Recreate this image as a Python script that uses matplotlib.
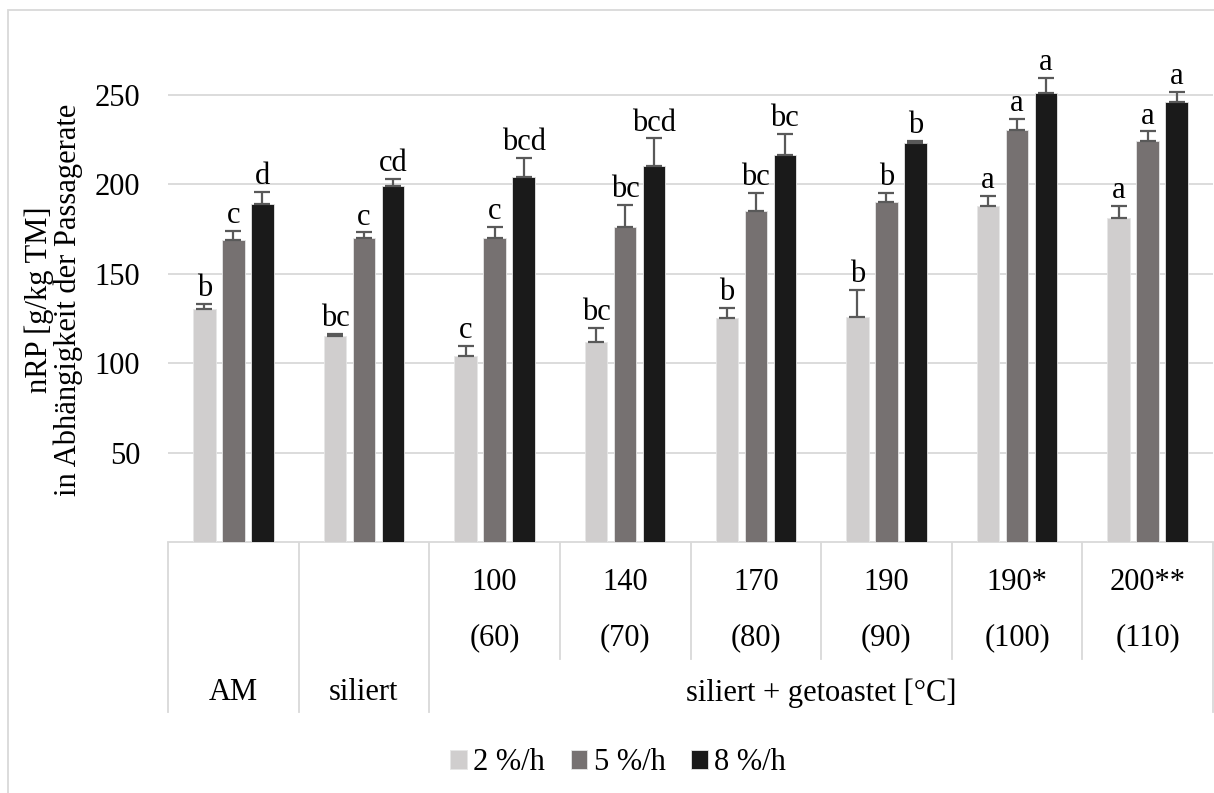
import numpy as np
import matplotlib
matplotlib.use("Agg")
from matplotlib import pyplot as plt
from matplotlib.lines import Line2D
from matplotlib.patches import Rectangle
from matplotlib.transforms import blended_transform_factory

plt.rcParams['font.family'] = ['Liberation Serif', 'DejaVu Serif']

# data
groups_top = ["", "", "100", "140", "170", "190", "190*", "200**"]
groups_mid = ["", "", "(60)", "(70)", "(80)", "(90)", "(100)", "(110)"]
series = ["2 %/h", "5 %/h", "8 %/h"]
values_2 = [130, 115, 104, 112, 125, 126, 188, 181]
values_5 = [169, 170, 170, 176, 185, 190, 230, 224]
values_8 = [189, 199, 204, 210, 216, 223, 251, 246]
err_2 = [3, 1.5, 5.5, 7.5, 6, 15, 5.5, 7]
err_5 = [5, 3, 6, 12.5, 10, 5, 6.5, 5.5]
err_8 = [6.5, 4, 10.5, 15.5, 12, 1, 8.5, 5.5]
letters_2 = ["b", "bc", "c", "bc", "b", "b", "a", "a"]
letters_5 = ["c", "c", "c", "bc", "bc", "b", "a", "a"]
letters_8 = ["d", "cd", "bcd", "bcd", "bc", "b", "a", "a"]

colors = ["#D0CECE", "#767171", "#1A1A1A"]
W, H = 1214, 793
FS = 22

fig = plt.figure(figsize=(W / 100, H / 100), dpi=100)
ax = fig.add_axes([168 / W, 1 - 542 / H, (1213 - 168) / W, (542 - 10) / H])

x = np.arange(len(values_2))
step, bw = 0.222, 0.172
vals = [values_2, values_5, values_8]
errs = [err_2, err_5, err_8]
lets = [letters_2, letters_5, letters_8]

for i in range(3):
    pos = x + (i - 1) * step
    ax.bar(pos, vals[i], bw, color=colors[i], edgecolor="#e6e6e6", linewidth=0.6,
           label=series[i], zorder=3)
    ax.errorbar(pos, vals[i], yerr=[np.zeros(len(x)), errs[i]], fmt="none",
                ecolor="#595959", elinewidth=1.6, capsize=6, capthick=1.6, zorder=4)
    for p, v, e, t in zip(pos, vals[i], errs[i], lets[i]):
        ax.annotate(t, (p, v + e), xytext=(0, 0.5), textcoords="offset points",
                    ha="center", va="bottom", fontsize=FS)

ax.set_xlim(-0.5, 7.5)
ax.set_ylim(0, 297.3)
ax.set_yticks([50, 100, 150, 200, 250])
ax.tick_params(axis="y", length=0, labelsize=FS, pad=20)
ax.set_xticks([])
ax.grid(axis="y", color="#D9D9D9", linewidth=1.3, zorder=0)
for s in ["top", "right", "left"]:
    ax.spines[s].set_visible(False)
ax.spines["bottom"].set_color("#D9D9D9")
ax.spines["bottom"].set_linewidth(1.3)

# multi-level category axis
tr = blended_transform_factory(ax.transData, fig.transFigure)
def fy(py):
    return 1 - py / H

for i in range(len(x)):
    ax.text(x[i], fy(582), groups_top[i], transform=tr, ha="center", va="center", fontsize=FS)
    ax.text(x[i], fy(638), groups_mid[i], transform=tr, ha="center", va="center", fontsize=FS)
ax.text(0, fy(693), "AM", transform=tr, ha="center", va="center", fontsize=FS)
ax.text(1, fy(693), "siliert", transform=tr, ha="center", va="center", fontsize=FS)
ax.text(4.5, fy(693), "siliert + getoastet [°C]", transform=tr, ha="center", va="center", fontsize=FS)

for xs in [-0.5, 0.5, 1.5, 7.5]:
    fig.add_artist(Line2D([xs, xs], [fy(543), fy(712)], transform=tr, color="#D9D9D9", lw=1.3))
for xs in [2.5, 3.5, 4.5, 5.5, 6.5]:
    fig.add_artist(Line2D([xs, xs], [fy(543), fy(659)], transform=tr, color="#D9D9D9", lw=1.3))

fig.text(54 / W, fy(300), "nRP [g/kg TM]\nin Abhängigkeit der Passagerate",
         rotation=90, ha="center", va="center", multialignment="center",
         fontsize=FS, linespacing=1.0)

fig.legend(loc="center", bbox_to_anchor=(618 / W, fy(763)), ncol=3, frameon=False,
           fontsize=FS, handlelength=0.55, handleheight=0.55, handletextpad=0.2,
           columnspacing=0.85)

# outer chart border
fig.add_artist(Rectangle((8 / W, -0.1), 1.2, fy(10) + 0.1, transform=fig.transFigure,
                         fill=False, edgecolor="#D9D9D9", lw=1.3))

fig.savefig("out.png", dpi=100)
